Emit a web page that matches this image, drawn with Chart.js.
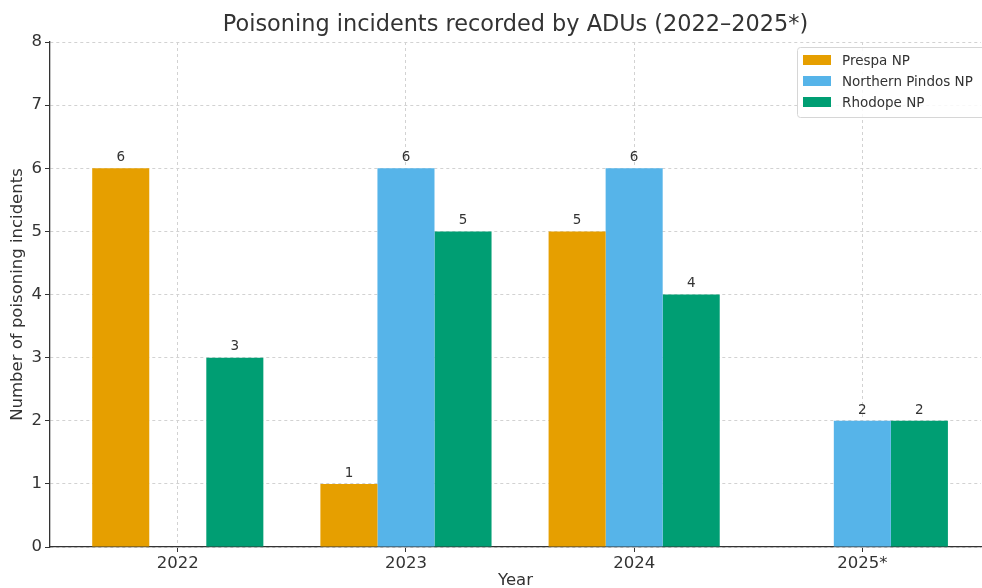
<!DOCTYPE html>
<html>
<head>
<meta charset="utf-8">
<script src="https://cdn.jsdelivr.net/npm/chart.js@4.4.1/dist/chart.umd.min.js"></script>
<style>
  html, body { margin: 0; padding: 0; background: #fff; }
  #wrap { width: 982px; height: 588px; position: relative; }
</style>
</head>
<body>
<div id="wrap"><canvas id="chart"></canvas></div>
<script>
// data
const years = ['2022', '2023', '2024', '2025*'];
const prespa = [6, 1, 5, 0];
const pindos = [0, 6, 6, 2];
const rhodope = [3, 5, 4, 2];
const seriesNames = ['Prespa NP', 'Northern Pindos NP', 'Rhodope NP'];
const colors = ['#E69F00', '#56B4E9', '#009E73'];
const yTicks = [0, 1, 2, 3, 4, 5, 6, 7, 8];

const FONT = "'DejaVu Sans', sans-serif";
const TEXT = '#333333';

function toPoints(arr) {
    return arr.map((v, i) => ({ x: i, y: v }));
}

// numbers above the bars (zero bars stay unlabelled)
const valueLabels = {
    id: 'valueLabels',
    afterDraw(chart) {
        const ctx = chart.ctx;
        ctx.save();
        ctx.font = '13.5px ' + FONT;
        ctx.fillStyle = TEXT;
        ctx.textAlign = 'center';
        ctx.textBaseline = 'bottom';
        chart.data.datasets.forEach((ds, di) => {
            chart.getDatasetMeta(di).data.forEach((bar, i) => {
                const v = ds.data[i].y;
                if (!v) return;
                ctx.fillText(String(v), bar.x, bar.y - 4);
            });
        });
        ctx.restore();
    }
};

// title centred over the plot, and boxed legend in the top right corner
const decor = {
    id: 'decor',
    afterDraw(chart) {
        const ctx = chart.ctx;
        const area = chart.chartArea;
        ctx.save();
        ctx.font = '22.4px ' + FONT;
        ctx.fillStyle = TEXT;
        ctx.textAlign = 'center';
        ctx.textBaseline = 'middle';
        ctx.fillText('Poisoning incidents recorded by ADUs (2022\u20132025*)', (area.left + area.right) / 2, 25);

        const bx = 797, by = 47, bw = 190, bh = 70;
        ctx.fillStyle = 'rgba(255,255,255,0.85)';
        ctx.strokeStyle = '#d6d6d6';
        ctx.lineWidth = 1;
        ctx.beginPath();
        ctx.roundRect(bx + 0.5, by + 0.5, bw, bh, 3);
        ctx.fill();
        ctx.stroke();

        ctx.font = '13.5px ' + FONT;
        ctx.textAlign = 'left';
        chart.data.datasets.forEach((ds, i) => {
            const y = by + 13 + i * 21;
            ctx.fillStyle = ds.backgroundColor;
            ctx.fillRect(bx + 6, y - 5, 28, 10);
            ctx.fillStyle = TEXT;
            ctx.fillText(ds.label, bx + 45, y + 1);
        });
        ctx.restore();
    }
};

const gridOpts = {
    color: '#d2d2d2',
    lineWidth: 1,
    drawTicks: true,
    tickLength: 5,
    tickColor: TEXT,
    tickBorderDash: [],
    offset: false
};

new Chart(document.getElementById('chart'), {
    type: 'bar',
    data: {
        datasets: [
            { label: seriesNames[0], data: toPoints(prespa), backgroundColor: colors[0] },
            { label: seriesNames[1], data: toPoints(pindos), backgroundColor: colors[1] },
            { label: seriesNames[2], data: toPoints(rhodope), backgroundColor: colors[2] }
        ]
    },
    options: {
        responsive: true,
        maintainAspectRatio: false,
        animation: false,
        devicePixelRatio: 1,
        layout: { padding: { top: 42, right: 1, left: 0, bottom: 0 } },
        datasets: { bar: { categoryPercentage: 0.75, barPercentage: 1.0, borderWidth: 0 } },
        plugins: {
            legend: { display: false },
            title: { display: false },
            tooltip: { enabled: false }
        },
        scales: {
            x: {
                type: 'linear',
                min: -0.56,
                max: 3.52,
                offset: false,
                z: 1,
                afterBuildTicks(scale) {
                    scale.ticks = years.map((y, i) => ({ value: i }));
                },
                afterFit(scale) { scale.height = 41; },
                ticks: {
                    callback: (v) => years[v],
                    color: TEXT,
                    font: { family: FONT, size: 16.5 },
                    padding: 2,
                    maxRotation: 0,
                    autoSkip: false
                },
                grid: gridOpts,
                border: { display: true, color: TEXT, width: 1.3, dash: [3, 3] },
                title: {
                    display: true,
                    text: 'Year',
                    color: TEXT,
                    font: { family: FONT, size: 16.5 },
                    padding: { top: 0, bottom: -3 }
                }
            },
            y: {
                min: 0,
                max: 8,
                z: 1,
                afterBuildTicks(scale) {
                    scale.ticks = yTicks.map(v => ({ value: v }));
                },
                afterFit(scale) { scale.width = 50; },
                ticks: {
                    color: TEXT,
                    font: { family: FONT, size: 16.5 },
                    padding: 3
                },
                grid: gridOpts,
                border: { display: true, color: TEXT, width: 1.3, dash: [3, 3] },
                title: {
                    display: true,
                    text: 'Number of poisoning incidents',
                    color: TEXT,
                    font: { family: FONT, size: 16.5 },
                    padding: { top: 8, bottom: 0 }
                }
            }
        }
    },
    plugins: [valueLabels, decor]
});
</script>
</body>
</html>
